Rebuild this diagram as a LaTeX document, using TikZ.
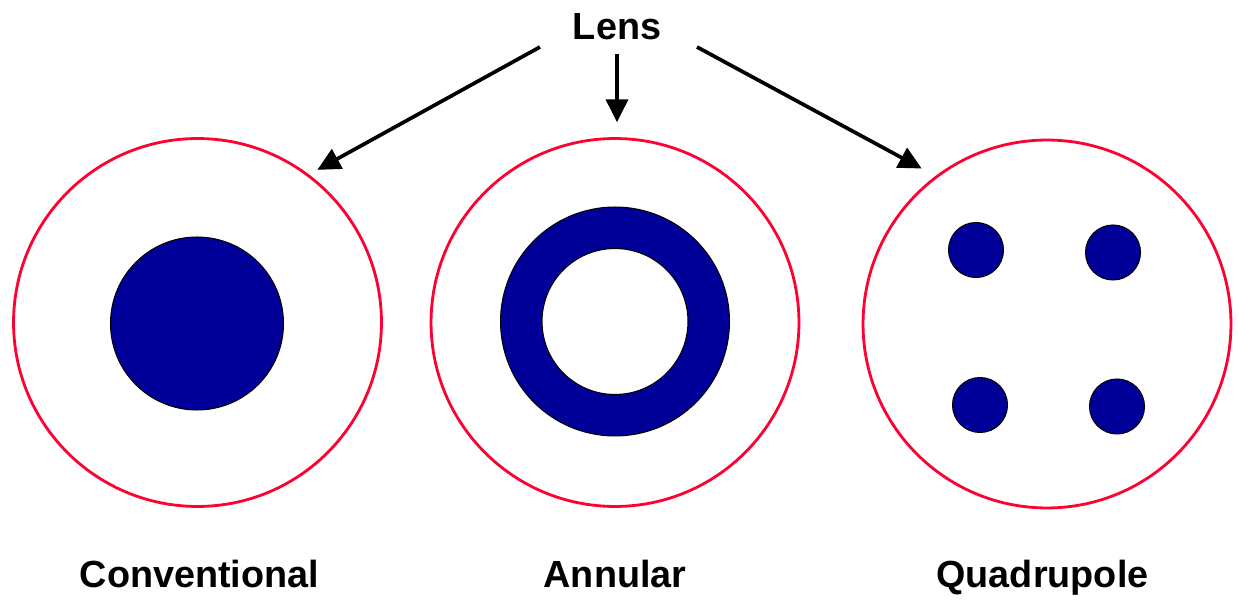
\documentclass[tikz,border=0pt]{standalone}
\usepackage{fontspec}
\setmainfont{Liberation Sans}
\usetikzlibrary{positioning, arrows.meta}
\definecolor{pupilred}{RGB}{255,0,51}
\definecolor{spotblue}{RGB}{0,0,153}

\begin{document}
\begin{tikzpicture}[x=0.02cm, y=-0.02cm, >={Triangle[length=13pt, width=12.5pt]},
    pupil/.style={draw=pupilred, line width=1.6pt, circle, minimum size=7.36cm, inner sep=0pt},
    spot/.style={draw=black, line width=0.6pt, fill=spotblue, circle, inner sep=0pt},
    hole/.style={draw=black, line width=0.6pt, fill=white, circle, inner sep=0pt},
    caption/.style={font=\fontsize{21.5}{26}\selectfont\bfseries, anchor=base, inner sep=0pt},
    lensarrow/.style={->, line width=2.1pt}]
	\useasboundingbox (0,0) rectangle (1238,604);
	% the three pupils
	\node (conv) [pupil] at (197.5,322.5) {};
	\node (annu) [pupil] at (615,322.5) {};
	\node (quad) [pupil] at (1047,324) {};
	% conventional: one disk
	\node (disk) [spot, minimum size=3.46cm] at (197,323.5) {};
	% annular: ring
	\node (ringout) [spot, minimum size=4.58cm] at (615,321.5) {};
	\node (ringin) [hole, minimum size=2.92cm] at (615,321.5) {};
	% quadrupole: four poles
	\node (poleA) [spot, minimum size=1.1cm] at (976,250) {};
	\node (poleB) [spot, minimum size=1.1cm] at (1113,252.5) {};
	\node (poleC) [spot, minimum size=1.1cm] at (980,405) {};
	\node (poleD) [spot, minimum size=1.1cm] at (1117,406.5) {};
	% labels
	\node (lens) [caption] at (617,40) {Lens};
	\node (convlbl) [caption] at (199.5,587) {Conventional};
	\node (annulbl) [caption] at (615,587) {Annular};
	\node (quadlbl) [caption] at (1042.5,587) {Quadrupole};
	% arrows from the lens label
	\coordinate (ltail) at (540,47);
	\coordinate (mtail) at (617,54);
	\coordinate (rtail) at (697,47);
	\draw[lensarrow, shorten >=5.4pt] (ltail) -- (conv.53.1);
	\draw[lensarrow, shorten >=8.5pt] (mtail) -- (mtail |- annu.north);
	\draw[lensarrow, shorten >=8.9pt] (rtail) -- (quad.127.7);
\end{tikzpicture}
\end{document}
